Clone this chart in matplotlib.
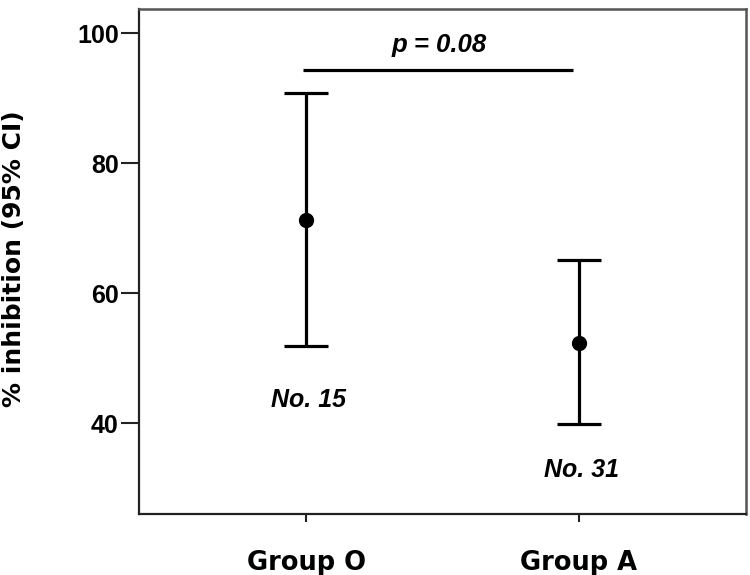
import matplotlib
matplotlib.use("Agg")
import matplotlib.pyplot as plt
from matplotlib import font_manager as fm
import os

# Data
groups = ["Group O", "Group A"]
means = [71.3, 52.4]
ci_lower = [51.8, 39.85]
ci_upper = [90.8, 65.1]
n_labels = ["No. 15", "No. 31"]
n_label_y = [43.5, 32.8]
p_text = "p = 0.08"
sig_y = 94.4
yticks = [40, 60, 80, 100]


def find_font(fname):
    for f in fm.findSystemFonts():
        if os.path.basename(f) == fname:
            return f
    return None


bold_path = find_font("LiberationSans-Bold.ttf")
bi_path = find_font("LiberationSans-BoldItalic.ttf")


def fp(size, italic=False):
    path = bi_path if italic else bold_path
    if path:
        return fm.FontProperties(fname=path, size=size)
    return fm.FontProperties(family='DejaVu Sans', weight='bold',
                             style='italic' if italic else 'normal', size=size)


fig = plt.figure(figsize=(7.5, 5.75), dpi=100)
ax = fig.add_axes([139/750, 1 - 513.5/575, 607/750, 505/575])

x = [1, 2]
yerr = [[m - lo for m, lo in zip(means, ci_lower)],
        [hi - m for m, hi in zip(means, ci_upper)]]
ax.errorbar(x, means, yerr=yerr, fmt='o', color='black', ecolor='black',
            elinewidth=2.3, capsize=16, capthick=2.3, markersize=10)

# significance line and p value
ax.plot([0.99, 1.978], [sig_y, sig_y], color='black', lw=2.3, solid_capstyle='butt')
ax.text((0.99 + 1.978) / 2 + 0.005, 98.2, p_text, ha='center', va='center',
        fontproperties=fp(18.5, italic=True))

for xi, lab, yy in zip(x, n_labels, n_label_y):
    ax.text(xi + 0.01, yy, lab, ha='center', va='center',
            fontproperties=fp(18, italic=True))

ax.set_xlim(0.388, 2.612)
ax.set_ylim(26.1, 103.8)
ax.set_xticks(x)
ax.set_xticklabels(groups, fontsize=18.5, fontweight='bold', family='DejaVu Sans')
ax.set_yticks(yticks)
ax.set_yticklabels([str(t) for t in yticks], fontproperties=fp(18))
ax.tick_params(axis='y', length=13, width=1.5, pad=1.5, color='#222222')
ax.tick_params(axis='x', length=6, width=1.5, pad=20, color='#222222')

for side in ['top', 'right']:
    ax.spines[side].set_color('#555555')
    ax.spines[side].set_linewidth(1.8)
for side in ['left', 'bottom']:
    ax.spines[side].set_color('#222222')
    ax.spines[side].set_linewidth(1.6)

fig.text(14/750, 1 - 259/575, "% inhibition (95% CI)", rotation=90,
         ha='center', va='center', fontsize=18, fontweight='bold',
         family='DejaVu Sans')

fig.savefig("out.png", dpi=100)
